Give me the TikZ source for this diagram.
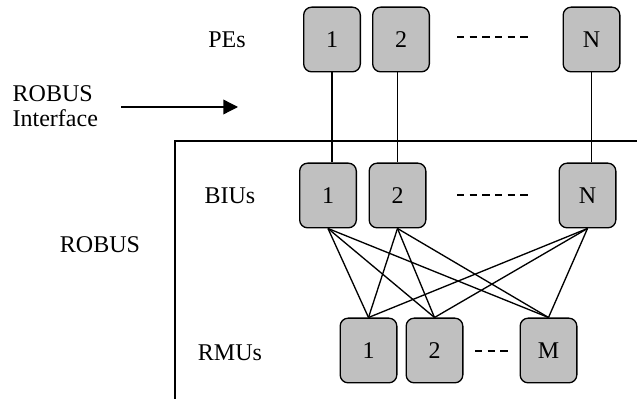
\documentclass[tikz,border=0pt]{standalone}
\usepackage{fontspec}
\setmainfont{Liberation Serif}
\usetikzlibrary{arrows.meta}
\definecolor{boxgray}{RGB}{192,192,192}
\begin{document}
\begin{tikzpicture}[x=0.75pt,y=-0.75pt,line width=1pt,
		font=\fontsize{18}{19}\selectfont,
		unit/.style={draw,line width=1pt,fill=boxgray,rounded corners=6pt,
			minimum width=42.5pt,minimum height=48.5pt,inner sep=0pt},
		gap/.style={dash pattern=on 5.5pt off 4pt}]
		\useasboundingbox (0,0) rectangle (637,399);
		% processing elements
		\node[unit] (pe1) at (332,39.5) {1};
		\node[unit] (pe2) at (401,39.5) {2};
		\node[unit] (peN) at (591.5,39.5) {N};
		% bus interface units
		\node[unit] (biu1) at (328,195.5) {1};
		\node[unit] (biu2) at (397.5,195.5) {2};
		\node[unit] (biuN) at (587.5,195.5) {N};
		% redundancy management units
		\node[unit] (rmu1) at (368.5,350.5) {1};
		\node[unit] (rmu2) at (434.5,350.5) {2};
		\node[unit] (rmuM) at (548.5,350.5) {M};
		% labels
		\node (pes) at (227,40) {PEs};
		\node (bius) at (230,196) {BIUs};
		\node (rmus) at (230,353) {RMUs};
		\node (robus) at (100,245) {ROBUS};
		\node[anchor=west,align=left,inner sep=0pt] (iface) at (12,106) {ROBUS\\Interface};
		\coordinate (tail) at (121,107);
		\coordinate (tip) at (238,107);
		\draw[-{Triangle[length=11pt,width=11pt]}] (tail) -- (tip);
		% ROBUS boundary
		\draw (637,141) -- (175,141) -- (175,399);
		% PE to BIU links
		\draw (pe1.south) -- (pe1.south |- biu1.north);
		\draw (biu2.north) -- (biu2.north |- pe2.south);
		\draw (peN.south) -- (peN.south |- biuN.north);
		% BIU to RMU links
		\foreach \b in {biu1,biu2,biuN}
			\foreach \r in {rmu1,rmu2,rmuM}
				\draw (\b.south) -- (\r.north);
		% ellipses
		\draw[gap] (457,37) -- (528,37);
		\draw[gap] (457,195) -- (528,195);
		\draw[gap] (475,351) -- (510,351);
	\end{tikzpicture}
\end{document}
